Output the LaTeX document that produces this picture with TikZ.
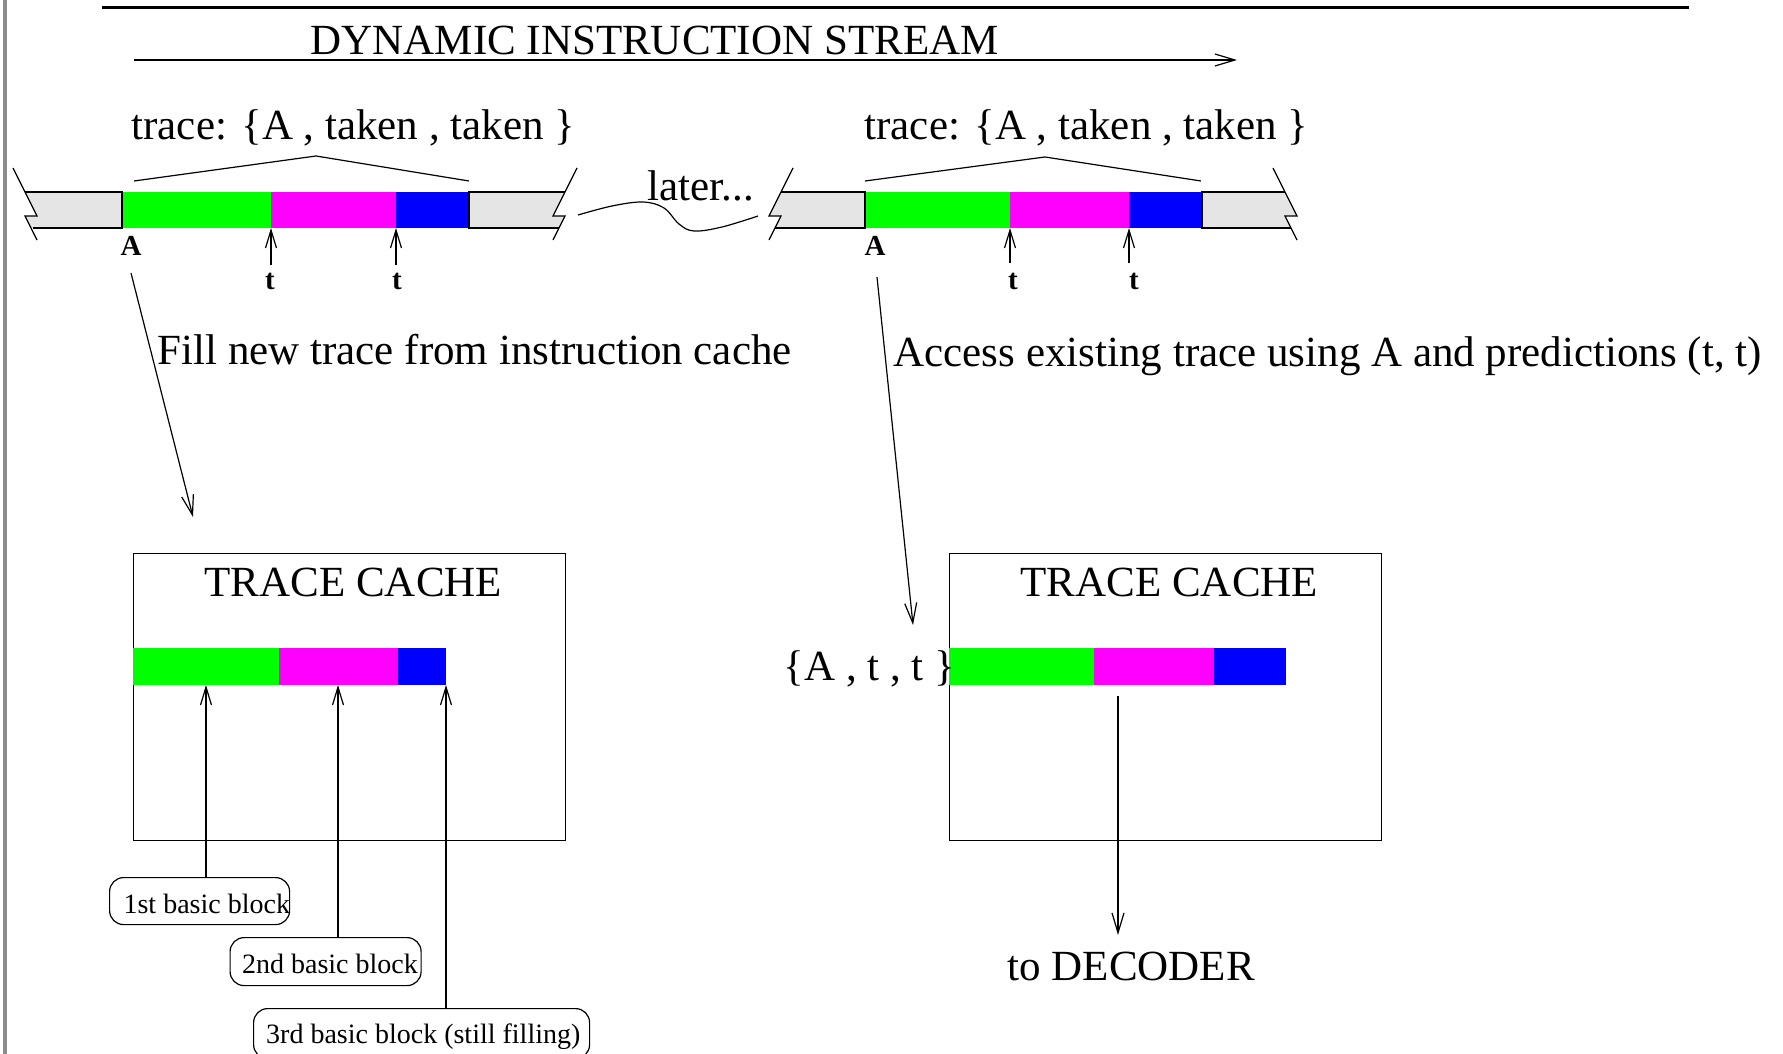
\documentclass[tikz,border=0pt]{standalone}
\usepackage{fontspec}
\setmainfont{Liberation Serif}
\usetikzlibrary{arrows.meta}
\definecolor{tgreen}{RGB}{0,255,0}
\definecolor{tmag}{RGB}{255,0,255}
\definecolor{tblue}{RGB}{0,0,255}
\definecolor{tgray}{RGB}{229,229,229}
\definecolor{edgegray}{RGB}{140,140,140}

\begin{document}
\begin{tikzpicture}[x=1pt,y=-1pt, line width=1.2pt,
  big/.style={font=\fontsize{43}{50}\selectfont, inner sep=0, anchor=base west},
  small/.style={font=\fontsize{28}{32}\selectfont, inner sep=0, anchor=base west},
  tag/.style={font=\fontsize{29}{32}\selectfont\bfseries, inner sep=0, anchor=base},
  blk/.style={inner sep=0, outer sep=0, anchor=north west, minimum height=36pt},
  cblk/.style={inner sep=0, outer sep=0, anchor=north west, minimum height=37pt},
  arr/.style={-{Straight Barb[length=20pt,width=12pt]}},
  tick/.style={-{Straight Barb[length=18pt,width=11pt]}},
  cache/.style={draw, inner sep=0, anchor=north west, minimum width=432pt, minimum height=287pt},
  bb/.style={draw, rounded corners=14pt, inner sep=0, anchor=north west},
]
\useasboundingbox (0,0) rectangle (1783,1054);

% frame edge and header rule
\fill[edgegray] (2.5,0) rectangle (6.5,1054);
\draw[line width=3pt] (102,8) -- (1689,8);
\node[big] (title) at (310,55) {DYNAMIC INSTRUCTION STREAM};
\coordinate (s0) at (134,60);
\coordinate (s1) at (1237,60);
\draw[arr] (s0) -- (s1);

% ---- first occurrence of the trace in the stream ----
\fill[tgray] (25,192) -- (122,192) -- (122,228) -- (31,228) -- (25,216) -- (37,216) -- cycle;
\fill[tgray] (469,192) -- (565,192) -- (553,216) -- (565,216) -- (559,228) -- (469,228) -- cycle;
\node[blk, fill=tgreen, minimum width=149pt] (lg) at (122,192) {};
\node[blk, fill=tmag, minimum width=125pt] (lm) at (271,192) {};
\node[blk, fill=tblue, minimum width=73pt] (lb) at (396,192) {};
\draw (33,228) -- (122,228) -- (122,192) -- (25,192);
\draw (13,168) -- (37,216) -- (25,216) -- (37,240);
\draw (565,192) -- (469,192) -- (469,228) -- (559,228);
\draw (577,168) -- (553,216) -- (565,216) -- (553,240);
\draw (134,181) -- (316,156) -- (469,181);
\node[big] (trL) at (131,140) {trace: \{A , taken , taken \}};
\node[tag] (lA) at (131,255) {A};
\coordinate (lt1) at (271,265);
\coordinate (lt2) at (396,265);
\draw[tick] (lt1) -- (lm.south west);
\draw[tick] (lt2) -- (lb.south west);
\node[tag] (lt1l) at (270,289) {t};
\node[tag] (lt2l) at (397,289) {t};

% ---- "later..." link ----
\draw plot[smooth, tension=0.6] coordinates {(578,215) (612,206) (643,202) (664,208) (679,224) (694,231) (722,227) (758,216)};
\node[big] (later) at (647,200) {later...};

% ---- second occurrence of the trace in the stream ----
\fill[tgray] (781,192) -- (865,192) -- (865,228) -- (775,228) -- (781,216) -- (769,216) -- cycle;
\fill[tgray] (1202,192) -- (1285,192) -- (1297,216) -- (1285,216) -- (1291,228) -- (1202,228) -- cycle;
\node[blk, fill=tgreen, minimum width=145pt] (rg) at (865,192) {};
\node[blk, fill=tmag, minimum width=119pt] (rm) at (1010,192) {};
\node[blk, fill=tblue, minimum width=73pt] (rb) at (1129,192) {};
\draw (781,192) -- (865,192) -- (865,228) -- (775,228);
\draw (793,168) -- (769,216) -- (781,216) -- (769,240);
\draw (1285,192) -- (1202,192) -- (1202,228) -- (1291,228);
\draw (1273,168) -- (1297,216) -- (1285,216) -- (1297,240);
\draw (865,181) -- (1045,157) -- (1201,181);
\node[big] (trR) at (864,140) {trace: \{A , taken , taken \}};
\node[tag] (rA) at (875,255) {A};
\coordinate (rt1) at (1010,263);
\coordinate (rt2) at (1129,263);
\draw[tick] (rt1) -- (rm.south west);
\draw[tick] (rt2) -- (rb.south west);
\node[tag] (rt1l) at (1013,289) {t};
\node[tag] (rt2l) at (1134,289) {t};

% ---- captions and long arrows ----
\node[big] (fillL) at (157,364) {Fill new trace from instruction cache};
\node[big] (accR) at (893,366) {Access existing trace using A and predictions (t, t)};
\coordinate (fa0) at (131,273);
\coordinate (fa1) at (193,517);
\draw[arr] (fa0) -- (fa1);
\coordinate (aa0) at (877,277);
\coordinate (aa1) at (913,625);
\draw[arr] (aa0) -- (aa1);

% ---- trace cache, filling ----
\node[cache] (tcL) at (133,553) {};
\node[big] (tcLt) at (204,596) {TRACE CACHE};
\node[cblk, fill=tgreen, minimum width=146pt] (cg) at (133,648) {};
\node[cblk, fill=tmag, minimum width=119pt] (cm) at (279,648) {};
\node[cblk, fill=tblue, minimum width=48pt] (cb) at (398,648) {};
\coordinate (c1) at (206,685);
\coordinate (c2) at (338,685);
\coordinate (c3) at (446,685);
\node[bb, minimum width=180pt, minimum height=47pt] (b1) at (109,877) {};
\node[small] (b1t) at (123,913) {1st basic block};
\node[bb, minimum width=191pt, minimum height=48pt] (b2) at (229.5,937) {};
\node[small] (b2t) at (241.5,973) {2nd basic block};
\node[bb, minimum width=336pt, minimum height=50pt] (b3) at (253,1008) {};
\node[small] (b3t) at (265.6,1043) {3rd basic block (still filling)};
\draw[tick] (b1.north -| c1) -- (c1);
\draw[tick] (b2.north -| c2) -- (c2);
\draw[tick] (b3.north -| c3) -- (c3);

% ---- trace cache, hit ----
\node[cache] (tcR) at (949,553) {};
\node[big] (tcRt) at (1020,596) {TRACE CACHE};
\node[cblk, fill=tgreen, minimum width=145pt] (hg) at (949,648) {};
\node[cblk, fill=tmag, minimum width=120pt] (hm) at (1094,648) {};
\node[cblk, fill=tblue, minimum width=72pt] (hb) at (1214,648) {};
\node[big] (key) at (783,680) {\{A , t , t \}};
\coordinate (d0) at (1118,696);
\coordinate (d1) at (1118,935);
\draw[arr] (d0) -- (d1);
\node[big] (dec) at (1007,980) {to DECODER};
\end{tikzpicture}
\end{document}
